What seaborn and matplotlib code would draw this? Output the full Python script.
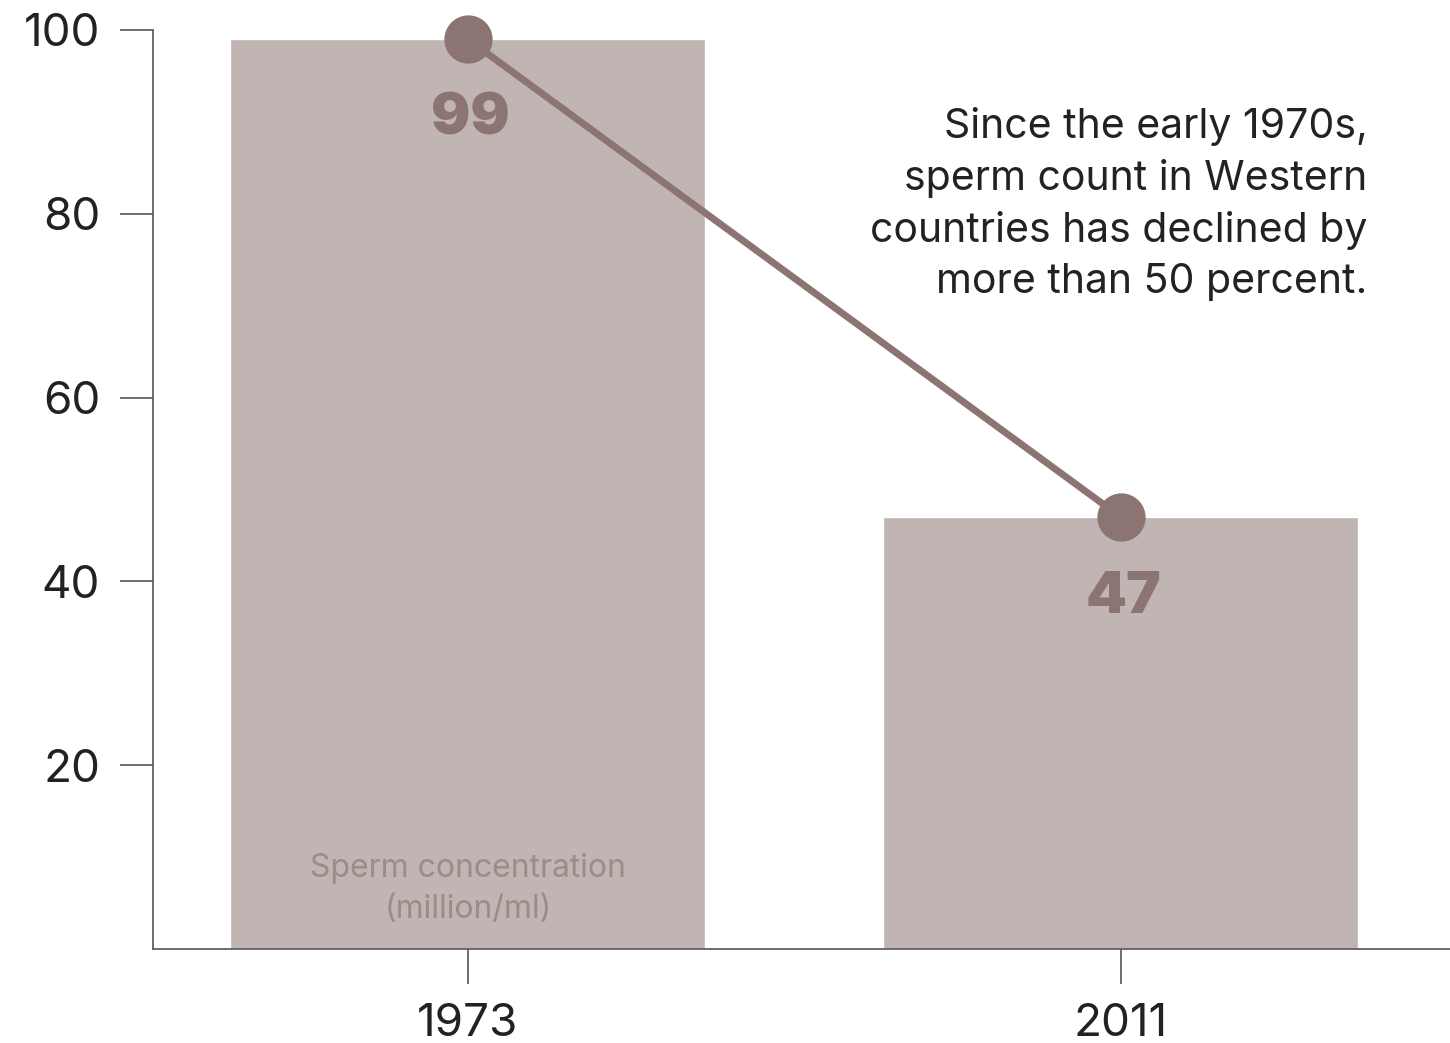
import matplotlib
matplotlib.use("Agg")
import matplotlib.pyplot as plt
import seaborn as sns
import pandas as pd

years = ["1973", "2011"]
concentration = [99, 47]
note = "Since the early 1970s,\nsperm count in Western\ncountries has declined by\nmore than 50 percent."
unit_label = "Sperm concentration\n(million/ml)"
y_ticks = [20, 40, 60, 80, 100]

BAR = "#c0b5b2"
DARK = "#8b7471"
LIGHT = "#9c8c89"
AXIS = "#555555"
TEXT = "#222222"

sns.set_theme(style="white")
plt.rcParams["font.family"] = ["Inter", "DejaVu Sans"]

df = pd.DataFrame({"year": years, "value": concentration})

fig = plt.figure(figsize=(14.5, 10.43), dpi=100)
ax = fig.add_axes([153 / 1450, 1 - 949 / 1043, 1 - 153 / 1450, (949 - 30) / 1043])

sns.barplot(data=df, x="year", y="value", color=BAR, width=0.727,
            saturation=1, ax=ax, zorder=1)
sns.pointplot(data=df, x="year", y="value", color=DARK, markersize=31,
              linewidth=5, ax=ax, zorder=3)
for coll in ax.collections + ax.lines:
    coll.set_clip_on(False)

for i, v in enumerate(concentration):
    ax.annotate(str(v), xy=(i, v), xytext=(2, -58), textcoords="offset points",
                ha="center", va="center", fontsize=42, fontweight="black",
                color=DARK)

ax.text(1.378, 91.6, note, ha="right", va="top", fontsize=29.5,
        color=TEXT, linespacing=1.42)
ax.text(0, 6.5, unit_label, ha="center", va="center", fontsize=23,
        color=LIGHT, linespacing=1.42)

ax.set_xlim(-0.482, 1.504)
ax.set_ylim(0, 100)
ax.set_yticks(y_ticks)
ax.set_yticklabels([str(t) for t in y_ticks])
ax.set_xlabel("")
ax.set_ylabel("")

for side in ["top", "right"]:
    ax.spines[side].set_visible(False)
for side in ["left", "bottom"]:
    ax.spines[side].set_color(AXIS)
    ax.spines[side].set_linewidth(1.2)

ax.tick_params(axis="y", direction="out", length=24, width=1.2, color=AXIS,
               pad=14, labelsize=33, labelcolor=TEXT, left=True)
ax.tick_params(axis="x", direction="out", length=25, width=1.2, color=AXIS,
               pad=14, labelsize=33, labelcolor=TEXT, bottom=True)

fig.savefig("out.png", dpi=100, facecolor="white")
